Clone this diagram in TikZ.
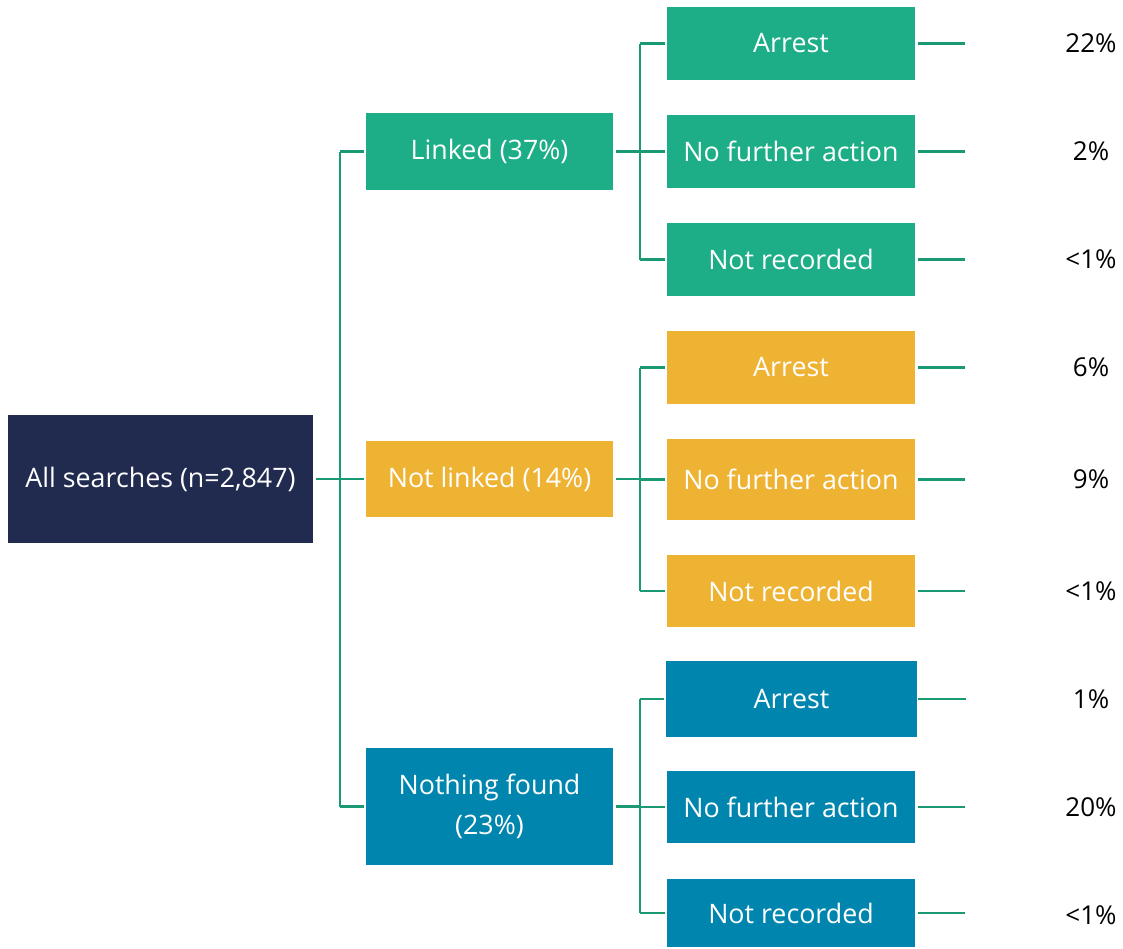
\documentclass[tikz,border=0pt]{standalone}
\usepackage{fontspec}
\setmainfont{Open Sans}
\definecolor{navy}{HTML}{212B50}
\definecolor{gbox}{HTML}{1DAE88}
\definecolor{ybox}{HTML}{EFB334}
\definecolor{bbox}{HTML}{0086AE}
\definecolor{lnk}{HTML}{1A9A74}
\tikzset{
  box/.style={rectangle, inner sep=0pt, text=white, font=\fontsize{26.8}{40}\selectfont, align=center},
  pct/.style={font=\fontsize{26}{32}\selectfont, text=black},
  conn/.style={draw=lnk, line width=2.2pt}
}
\begin{document}
\begin{tikzpicture}[x=1pt,y=-1pt]
\useasboundingbox (0,0) rectangle (1123,948);
\fill[white] (0,0) rectangle (1123,948);
% root
\node[box, fill=navy, minimum width=305, minimum height=128] (root) at (160.5,479) {All searches (n=2,847)};
% level 2
\node[box, fill=gbox, minimum width=247, minimum height=77] (lk) at (489.5,151.5) {Linked (37\%)};
\node[box, fill=ybox, minimum width=247, minimum height=76] (nl) at (489.5,479) {Not linked (14\%)};
\node[box, fill=bbox, minimum width=247, minimum height=117] (nf) at (489.5,806.5) {Nothing found\\(23\%)};
% level 3
\node[box, fill=gbox, minimum width=248, minimum height=73] (ga) at (791,43.5) {Arrest};
\node[box, fill=gbox, minimum width=248, minimum height=73] (gn) at (791,151.5) {No further action};
\node[box, fill=gbox, minimum width=248, minimum height=73] (gr) at (791,259.5) {Not recorded};
\node[box, fill=ybox, minimum width=248, minimum height=73] (ya) at (791,367.5) {Arrest};
\node[box, fill=ybox, minimum width=248, minimum height=81] (yn) at (791,479.5) {No further action};
\node[box, fill=ybox, minimum width=248, minimum height=72] (yr) at (791,591) {Not recorded};
\node[box, fill=bbox, minimum width=251, minimum height=76] (ba) at (791.5,699) {Arrest};
\node[box, fill=bbox, minimum width=248, minimum height=72] (bn) at (791,807) {No further action};
\node[box, fill=bbox, minimum width=248, minimum height=68] (br) at (791,913) {Not recorded};
% percentages
\node[pct] (pga) at (1091,43.5) {22\%};
\node[pct] (pgn) at (1091,151.5) {2\%};
\node[pct] (pgr) at (1091,259.5) {<1\%};
\node[pct] (pya) at (1091,367.5) {6\%};
\node[pct] (pyn) at (1091,479.5) {9\%};
\node[pct] (pyr) at (1091,591) {<1\%};
\node[pct] (pba) at (1091,699) {1\%};
\node[pct] (pbn) at (1091,807) {20\%};
\node[pct] (pbr) at (1091,915) {<1\%};
% trunk coordinates
\coordinate (t0) at (340,479);
\coordinate (t1) at (640,151.5);
\coordinate (t2) at (640,479);
\coordinate (t3) at (640,806.5);
% root connectors
\draw[conn] ([xshift=3]root.east) -- (t0);
\draw[conn] (lk.west -| t0) -- (nf.west -| t0);
\draw[conn] (lk.west -| t0) -- ([xshift=-2]lk.west);
\draw[conn] (t0) -- ([xshift=-2]nl.west);
\draw[conn] (nf.west -| t0) -- ([xshift=-2]nf.west);
% level-2 connectors
\foreach \p/\a/\b/\c/\t in {lk/ga/gn/gr/t1, nl/ya/yn/yr/t2, nf/ba/bn/br/t3}{
  \draw[conn] ([xshift=3]\p.east) -- (\t);
  \draw[conn] (\a.west -| \t) -- (\c.west -| \t);
  \draw[conn] (\a.west -| \t) -- ([xshift=-2]\a.west);
  \draw[conn] (\b.west -| \t) -- ([xshift=-2]\b.west);
  \draw[conn] (\c.west -| \t) -- ([xshift=-2]\c.west);
}
% right stubs
\foreach \n in {ga,gn,gr,ya,yn,yr,bn,br}{
  \draw[conn] ([xshift=3]\n.east) -- ([xshift=50]\n.east);
}
\draw[conn] ([xshift=1]ba.east) -- ([xshift=48.5]ba.east);
\end{tikzpicture}
\end{document}
